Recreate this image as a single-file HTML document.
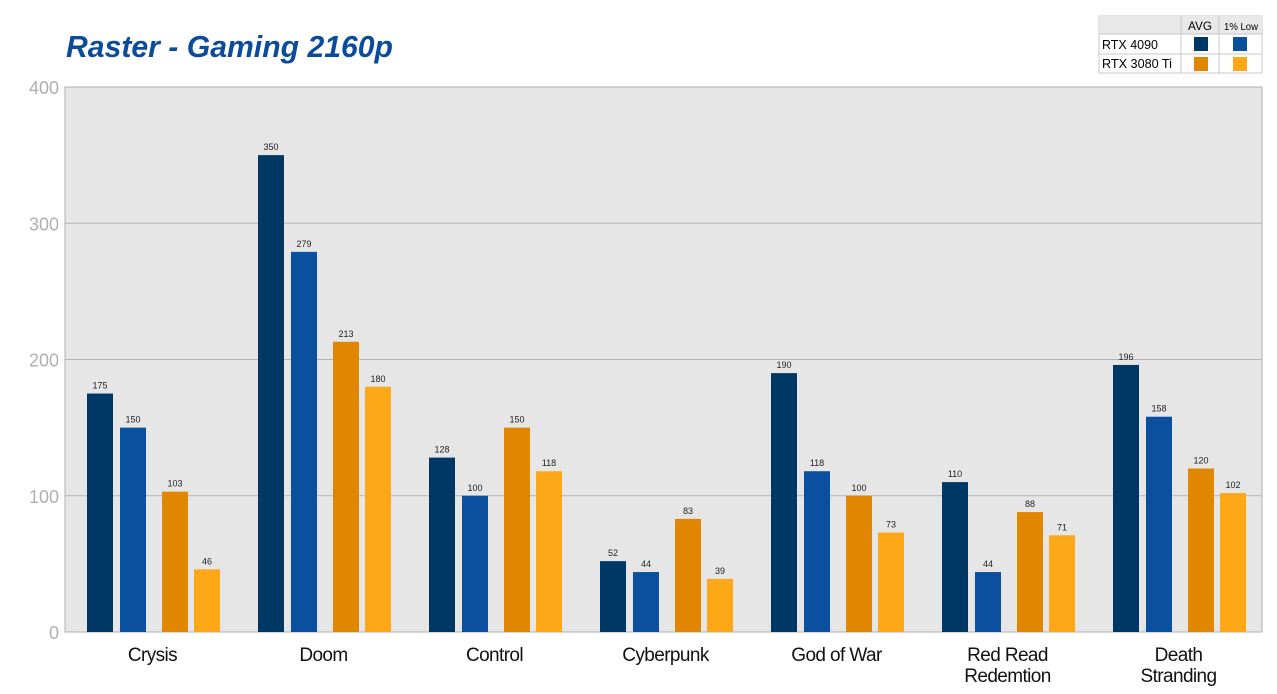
<!DOCTYPE html>
<html><head><meta charset="utf-8">
<style>
body{margin:0;background:#fff;width:1277px;height:694px;overflow:hidden;font-family:"Liberation Sans",sans-serif}
svg{display:block}
</style></head><body>
<svg width="1277" height="694" id="c">
<text x="66" y="57" font-size="31" font-weight="bold" font-style="italic" fill="#0b4b9b" textLength="327" lengthAdjust="spacingAndGlyphs">Raster - Gaming 2160p</text>
<rect x="65" y="87" width="1197" height="545" fill="#e6e6e6" stroke="#b0b0b0"/>
<g id="grid"></g><g id="bars"></g><g id="labels"></g>
<g font-size="13">
<rect x="1099" y="16" width="163" height="57" fill="#fff" stroke="#c8c8c8"/>
<rect x="1099" y="16" width="163" height="18" fill="#e8e8e8"/>
<line x1="1099" y1="34" x2="1262" y2="34" stroke="#c8c8c8"/>
<line x1="1099" y1="54" x2="1262" y2="54" stroke="#c8c8c8"/>
<line x1="1181" y1="16" x2="1181" y2="73" stroke="#c8c8c8"/>
<line x1="1219" y1="16" x2="1219" y2="73" stroke="#c8c8c8"/>
<text x="1200" y="30" text-anchor="middle" font-size="12" textLength="24" lengthAdjust="spacingAndGlyphs">AVG</text>
<text x="1241" y="30" text-anchor="middle" font-size="10" textLength="34" lengthAdjust="spacingAndGlyphs">1% Low</text>
<text x="1102" y="49" textLength="56" lengthAdjust="spacingAndGlyphs">RTX 4090</text>
<text x="1102" y="68" textLength="70" lengthAdjust="spacingAndGlyphs">RTX 3080 Ti</text>
<rect x="1194" y="37" width="14" height="14" fill="#003865"/>
<rect x="1233" y="37" width="14" height="14" fill="#0b4f9f"/>
<rect x="1194" y="57" width="14" height="14" fill="#e08600"/>
<rect x="1233" y="57" width="14" height="14" fill="#ffa817"/>
</g>
</svg>
<script>
const categories=[["Crysis"],["Doom"],["Control"],["Cyberpunk"],["God of War"],["Red Read","Redemtion"],["Death","Stranding"]];
const avg4090=[175,350,128,52,190,110,196];
const low4090=[150,279,100,44,118,44,158];
const avg3080=[103,213,150,83,100,88,120];
const low3080=[46,180,118,39,73,71,102];
const ticks=[0,100,200,300,400];
const series=[avg4090,low4090,avg3080,low3080];
const names=['avg-4090','low-4090','avg-3080ti','low-3080ti'];
const colors=['#003865','#0b4f9f','#e08600','#ffa817'];
const offs=[22,55,97,129];
const X0=65,W=1197,Y0=632,Y1=87,MAX=400;
const y=v=>Y0-(v/MAX)*(Y0-Y1);
const gw=W/categories.length;
const NS='http://www.w3.org/2000/svg';
function mk(t,a,p){const e=document.createElementNS(NS,t);for(const k in a)e.setAttribute(k,a[k]);p.appendChild(e);return e;}
const grid=document.getElementById('grid'),bars=document.getElementById('bars'),labels=document.getElementById('labels');
ticks.forEach(t=>{
 if(t>0&&t<MAX){const l=mk('line',{x1:X0,x2:X0+W,y1:y(t),y2:y(t),stroke:'#b4b4b4'},grid);
 
 }
 const tx=mk('text',{x:59,y:y(t)+7,'text-anchor':'end','font-size':18,fill:'#b0b0b0'},grid);
 tx.textContent=t;
 
 
});
categories.forEach((c,i)=>{
 const gx=X0+i*gw;
 series.forEach((s,j)=>{
  const v=s[i];
  const r=mk('rect',{x:gx+offs[j],y:y(v),width:26,height:Y0-y(v),fill:colors[j]},bars);
  
  
  const t=mk('text',{x:gx+offs[j]+13,y:y(v)-5,'text-anchor':'middle','font-size':9,fill:'#222'},labels);
  t.textContent=v;
  
  
 });
 c.forEach((ln,k)=>{
  const t=mk('text',{x:gx+gw/2+2,y:661+k*21,'text-anchor':'middle','font-size':19,fill:'#111','letter-spacing':'-0.6'},labels);
  t.textContent=ln;
  
  
 });
});
</script>
</body></html>
